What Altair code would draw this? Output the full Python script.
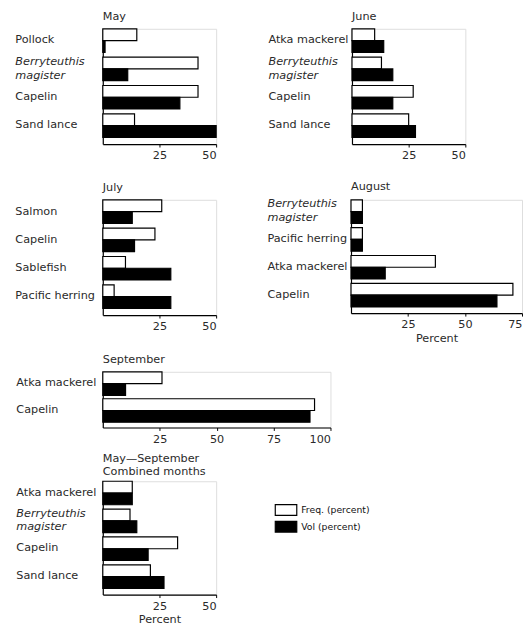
import altair as alt
import pandas as pd

measures = ["Freq. (percent)", "Vol (percent)"]

may_species = ["Pollock", "Berryteuthis magister", "Capelin", "Sand lance"]
may_freq = [15, 42, 42, 14]
may_vol = [1, 11, 34, 50]

june_species = ["Atka mackerel", "Berryteuthis magister", "Capelin", "Sand lance"]
june_freq = [10, 13, 27, 25]
june_vol = [14, 18, 18, 28]

july_species = ["Salmon", "Capelin", "Sablefish", "Pacific herring"]
july_freq = [26, 23, 10, 5]
july_vol = [13, 14, 30, 30]

aug_species = ["Berryteuthis magister", "Pacific herring", "Atka mackerel", "Capelin"]
aug_freq = [5, 5, 37, 71]
aug_vol = [5, 5, 15, 64]

sep_species = ["Atka mackerel", "Capelin"]
sep_freq = [26, 93]
sep_vol = [10, 91]

comb_species = ["Atka mackerel", "Berryteuthis magister", "Capelin", "Sand lance"]
comb_freq = [13, 12, 33, 21]
comb_vol = [13, 15, 20, 27]

FONT = "DejaVu Sans"
TXT = "#2a2a2a"
PX_PER_UNIT = 2.33
P_IN = 0.17
P_OUT = 0.12
ITALIC_TEST = "datum.value == 'Berryteuthis magister'"

legend = alt.Legend(
    title=None, orient="none", legendX=181, legendY=486,
    symbolType="M-2,-1H2V1H-2Z", symbolSize=121,
    symbolStrokeColor="black", symbolStrokeWidth=1.2, symbolOpacity=1,
    labelFont=FONT, labelFontSize=9.5, labelColor="#111", rowPadding=0,
    labelOffset=9,
)


def panel(title, species, freq, vol, xmax, xvalues, label_pad, height,
          xtitle=None, title_offset=6):
    rows = []
    for s, f, v in zip(species, freq, vol):
        rows.append({"species": s, "measure": measures[0], "value": f})
        rows.append({"species": s, "measure": measures[1], "value": v})
    df = pd.DataFrame(rows)
    width = round(xmax * PX_PER_UNIT)
    xaxis_kw = dict(
        values=xvalues, grid=False, domainColor="black", domainWidth=1.2,
        tickColor="black", tickSize=3, labelFont=FONT, labelFontSize=11.5,
        labelColor=TXT, labelPadding=3,
    )
    if xtitle:
        xaxis_kw.update(title=xtitle, titleFont=FONT, titleFontSize=11.5,
                        titleFontWeight="normal", titleColor=TXT, titlePadding=2)
    else:
        xaxis_kw.update(title=None)
    yaxis = alt.Axis(
        title=None, ticks=False, tickSize=0, grid=False, domainColor="black",
        domainWidth=1.2, labelAlign="left", labelPadding=label_pad,
        labelFont=FONT, labelFontSize=11.5, labelColor=TXT, labelLineHeight=14,
        labelExpr=ITALIC_TEST + " ? ['Berryteuthis', 'magister'] : datum.label",
        labelFontStyle={"condition": {"test": ITALIC_TEST, "value": "italic"},
                        "value": "normal"},
        labelOffset={"condition": {"test": ITALIC_TEST, "value": -7}, "value": 0},
        labelLimit=200,
    )
    return alt.Chart(df, title=alt.Title(
        title, anchor="start", frame="group", font=FONT, fontSize=11.5,
        fontWeight="normal", color=TXT, offset=title_offset, lineHeight=14,
    )).mark_bar(stroke="black", strokeWidth=1.2).encode(
        x=alt.X("value:Q", scale=alt.Scale(domain=[0, xmax], nice=False, zero=True),
                axis=alt.Axis(**xaxis_kw)),
        y=alt.Y("species:N", sort=species,
                scale=alt.Scale(paddingInner=P_IN, paddingOuter=P_OUT, align=0),
                axis=yaxis),
        yOffset=alt.YOffset("measure:N", sort=measures,
                            scale=alt.Scale(paddingInner=0, paddingOuter=0)),
        fill=alt.Fill("measure:N", sort=measures,
                      scale=alt.Scale(domain=measures, range=["white", "black"]),
                      legend=legend),
    ).properties(width=width, height=height)


may = panel("May", may_species, may_freq, may_vol, 50, [25, 50], 90, 118)
june = panel("June", june_species, june_freq, june_vol, 50, [25, 50], 86, 118)
july = panel("July", july_species, july_freq, july_vol, 50, [25, 50], 90, 118)
aug = panel("August", aug_species, aug_freq, aug_vol, 75, [25, 50, 75], 86, 116,
            "Percent")
sep = panel("September", sep_species, sep_freq, sep_vol, 100, [25, 50, 75, 100],
            89, 57)
comb = panel(["May\u2014September", "Combined months"], comb_species, comb_freq,
             comb_vol, 50, [25, 50], 89, 116, "Percent", title_offset=3)

row1 = alt.hconcat(may, june, spacing=50)
row2 = alt.hconcat(july, aug, spacing=50)
top = alt.vconcat(row1, row2, spacing=19)
bottom = alt.vconcat(sep, comb, spacing=7)

chart = alt.vconcat(top, bottom, spacing=9).properties(
    padding={"left": 6, "top": -5, "right": 0, "bottom": 0},
).configure_view(stroke=None).configure(background="white")

chart.save("out.html", embed_options={"renderer": "svg", "actions": False})
